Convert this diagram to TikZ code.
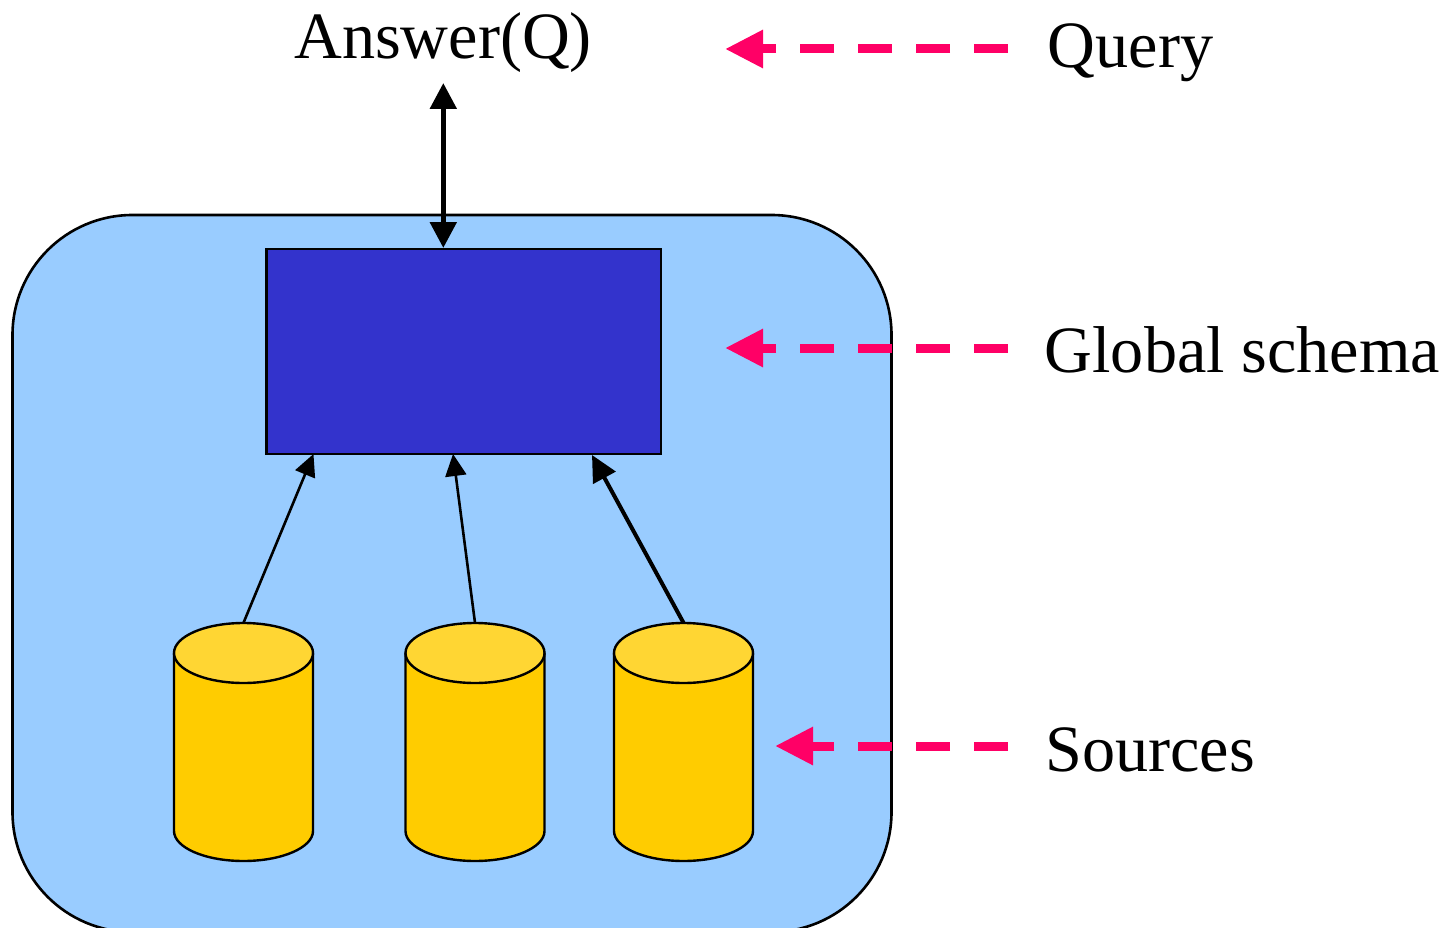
\documentclass[tikz,border=0pt]{standalone}
\usepackage{fontspec}
\setmainfont{Liberation Serif}
\usetikzlibrary{arrows.meta}
\definecolor{skyfill}{HTML}{99CCFF}
\definecolor{schemafill}{HTML}{3333CC}
\definecolor{cylbody}{HTML}{FFCC00}
\definecolor{cyltop}{HTML}{FFD633}
\definecolor{pointer}{HTML}{FF0066}
\tikzset{
  x=1pt,y=-1pt,
  labeltext/.style={anchor=base west,inner sep=0pt,font=\fontsize{66.2}{70}\selectfont},
  cylframe/.style={inner sep=0pt,minimum width=139pt,minimum height=238pt},
  cylpart/.style={draw=black,line width=2.4pt,line join=round},
  pointerline/.style={draw=pointer,line width=9pt,dash pattern=on 34pt off 24pt,
    -{Triangle[length=38pt,width=36pt,fill=pointer]}},
  thinflow/.style={draw=black,line width=2.6pt,-{Triangle[length=22pt,width=21pt]}},
  thickflow/.style={draw=black,line width=4pt,-{Triangle[length=26pt,width=25pt]}},
  bothflow/.style={draw=black,line width=5.2pt,{Triangle[length=26pt,width=26pt]}-{Triangle[length=26pt,width=26pt]}}
}
\newcommand{\dbcylinder}[2]{%
  \begin{scope}[shift={(#2,0)}]
    \node[cylframe] (#1) at (0,742) {};
    \filldraw[cylpart,fill=cylbody] (-69.5,653) -- (-69.5,831)
      .. controls (-69.5,847.6) and (-38.4,861) .. (0,861)
      .. controls (38.4,861) and (69.5,847.6) .. (69.5,831) -- (69.5,653) -- cycle;
    \filldraw[cylpart,fill=cyltop] (-69.5,653)
      .. controls (-69.5,636.4) and (-38.4,623) .. (0,623)
      .. controls (38.4,623) and (69.5,636.4) .. (69.5,653)
      .. controls (69.5,669.6) and (38.4,683) .. (0,683)
      .. controls (-38.4,683) and (-69.5,669.6) .. (-69.5,653) -- cycle;
  \end{scope}}
\begin{document}
\begin{tikzpicture}
\useasboundingbox (0,0) rectangle (1447,928);
\begin{scope}
\clip (0,0) rectangle (1447,928);
\draw[fill=skyfill,line width=2.6pt,rounded corners=120pt] (12.5,215) rectangle (891.5,932);
\end{scope}
\node[draw=black,fill=schemafill,line width=2.2pt,inner sep=0pt,minimum width=394.5pt,minimum height=205pt] (schema) at (463.7,351.5) {};
\dbcylinder{s1}{243.5}
\dbcylinder{s2}{475}
\dbcylinder{s3}{683.5}
\node[labeltext] (answer) at (294,59) {Answer(Q)};
\node[labeltext] (query) at (1047.5,68) {Query};
\node[labeltext] (global) at (1044.5,372) {Global schema};
\node[labeltext] (sources) at (1045,771) {Sources};
\coordinate (qstart) at (1008,49);
\coordinate (qend) at (725,49);
\coordinate (gstart) at (1008,348);
\coordinate (gend) at (725,348);
\coordinate (sstart) at (1008,746);
\coordinate (send) at (775,746);
\coordinate (in1) at (313.5,454);
\coordinate (in2) at (453,454);
\coordinate (in3) at (592,455);
\coordinate (ansin) at (443.3,248);
\coordinate (ansout) at (443.3,83);
\draw[pointerline] (qstart) -- (qend);
\draw[pointerline] (gstart) -- (gend);
\draw[pointerline] (sstart) -- (send);
\draw[bothflow] (ansout) -- (ansin);
\draw[thinflow] (s1.north) -- (in1);
\draw[thinflow] (s2.north) -- (in2);
\draw[thickflow] (s3.north) -- (in3);
\end{tikzpicture}
\end{document}
